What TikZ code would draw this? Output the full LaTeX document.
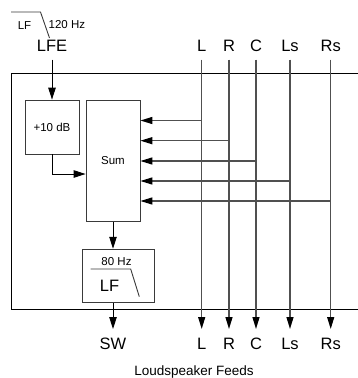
\documentclass[tikz,border=0pt]{standalone}
\usepackage{fontspec}
\setmainfont{Liberation Sans}
\usetikzlibrary{arrows.meta, positioning}
\definecolor{wire}{HTML}{505050}
\definecolor{edge}{HTML}{3A3A3A}
\tikzset{
  block/.style={rectangle, draw=edge, line width=0.8pt, fill=white, align=center, inner sep=0pt, font=\fontsize{11.5}{13}\selectfont},
  chan/.style={font=\fontsize{16.5}{18}\selectfont, inner sep=0pt, outer sep=8pt, text height=12pt, text depth=0pt, anchor=base},
  small/.style={font=\fontsize{11.5}{13}\selectfont, inner sep=0pt, anchor=base},
  feed/.style={-{Triangle[length=12pt, width=7pt, black]}, line width=1.3pt, color=wire},
  arrow/.style={-{Triangle[length=12pt, width=7.5pt]}, line width=0.9pt, color=black},
  frame/.style={line width=1pt, color=black},
  slope/.style={line width=0.9pt, color=edge},
}
\begin{document}
\begin{tikzpicture}[x=1pt, y=-1pt]
  \useasboundingbox (0,0) rectangle (358,378);
  % decoder frame, open to the right
  \draw[frame] (358,73) -- (11,73) -- (11,309.5) -- (358,309.5);

  % LFE input with its band marker
  \node[chan] (lfe) at (52,51.7) {LFE};
  \draw[slope] (11,12) -- (40.5,12) -- (49.5,38);
  \node[small] (lfband) at (24.5,29) {LF};
  \node[small, anchor=base west] (lfhz) at (48.5,28) {120 Hz};

  % processing blocks
  \node[block, minimum width=54pt, minimum height=54pt] (gain) at (52,127) {+10 dB};
  \node[block, minimum width=54pt, minimum height=121.7pt] (sum) at (113,160.85) {Sum};
  \node[block, minimum width=72pt, minimum height=53.7pt] (lpf) at (118,276) {};
  \node[small] (lpfhz) at (116.5,265) {80 Hz};
  \node[block, draw=none, fill=none, font=\fontsize{16.5}{18}\selectfont, anchor=base] (lpfname) at (109.5,291.7) {LF};
  \draw[slope] (90.7,269) -- (130.7,269) -- (139.3,296.7);

  % main channels in and out
  \foreach \ch/\txt/\x in {l/L/201.7, r/R/229, c/C/256, ls/Ls/290, rs/Rs/330.7} {
    \node[chan] (\ch) at (\x,51.7) {\txt};
    \node[chan] (\ch out) at (\x,349) {\txt};
    \draw[feed] (\ch) -- (\ch out);
  }
  \foreach \ch/\y in {l/120.5, r/140.7, c/161, ls/181, rs/201}
    \draw[feed] (\ch |- 0,\y) -- (sum.east |- 0,\y);

  % LFE path
  \draw[arrow] (lfe) -- (gain);
  \draw[arrow] (gain.south) |- (sum.west |- 0,174);
  \draw[arrow] (sum.south) -- (sum.south |- lpf.north);
  \node[chan] (sw) at (113,349) {SW};
  \draw[arrow] (sum.south |- lpf.south) -- (sw);

  \node[font=\fontsize{13.5}{15}\selectfont, inner sep=0pt, anchor=base] (feeds) at (194,375) {Loudspeaker Feeds};
\end{tikzpicture}
\end{document}
